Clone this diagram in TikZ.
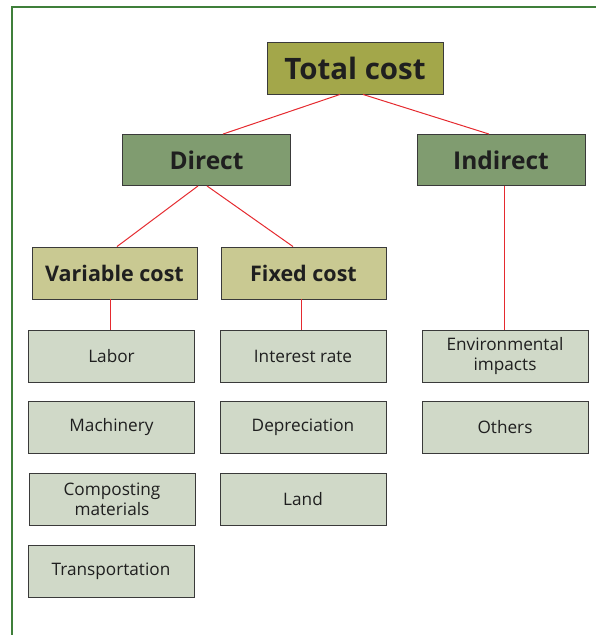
\documentclass[tikz,border=0pt]{standalone}
\usepackage{fontspec}
\setmainfont{Open Sans}
\usetikzlibrary{calc}
\definecolor{frame}{HTML}{3F7F3A}
\definecolor{topfill}{HTML}{A3A74A}
\definecolor{midfill}{HTML}{809C70}
\definecolor{subfill}{HTML}{C9C992}
\definecolor{leaffill}{HTML}{D0D9C8}
\definecolor{edge}{HTML}{3A3A3A}
\definecolor{link}{HTML}{E52A2F}
\tikzset{
  box/.style={draw=edge, line width=0.9pt, inner sep=0pt, align=center, text=black!88},
  topbox/.style={box, fill=topfill, minimum width=176pt, minimum height=52pt, font=\bfseries\fontsize{29.5}{32}\selectfont},
  midbox/.style={box, fill=midfill, minimum width=168pt, minimum height=51pt, font=\bfseries\fontsize{24.5}{28}\selectfont},
  subbox/.style={box, fill=subfill, minimum width=165pt, minimum height=52pt, font=\bfseries\fontsize{21.5}{24}\selectfont},
  leaf/.style={box, fill=leaffill, minimum width=166pt, minimum height=52pt, font=\fontsize{17.2}{20}\selectfont},
  conn/.style={draw=link, line width=1pt}
}
\begin{document}
\begin{tikzpicture}[x=1pt,y=-1pt]
\useasboundingbox (0,0) rectangle (596,635);
\draw[frame, line width=2.5pt] (12,640) -- (12,7) -- (600,7);
\node[topbox] (total) at (355,68) {Total cost};
\node[midbox] (direct) at (206.5,160) {Direct};
\node[midbox] (indirect) at (501,160) {Indirect};
\node[subbox] (variable) at (114.5,273) {Variable cost};
\node[subbox] (fixed) at (303.5,273) {Fixed cost};
\node[leaf] (labor) at (111.5,356) {Labor};
\node[leaf] (interest) at (303,356) {Interest rate};
\node[leaf] (env) at (505,356) {Environmental\\impacts};
\node[leaf] (machinery) at (111.5,427.5) {Machinery};
\node[leaf] (depreciation) at (303,427.5) {Depreciation};
\node[leaf] (others) at (505,427.5) {Others};
\node[leaf] (composting) at (112,499) {Composting\\materials};
\node[leaf] (land) at (303,499) {Land};
\node[leaf] (transport) at (111,571) {Transportation};
\draw[conn] ($(total.south)+(-15,0)$) -- ($(direct.north)+(16.5,0)$);
\draw[conn] ($(total.south)+(8,0)$) -- ($(indirect.north)+(-12,0)$);
\draw[conn] ($(direct.south)+(-8.5,0)$) -- ($(variable.north)+(2.5,0)$);
\draw[conn] ($(direct.south)+(0.5,0)$) -- ($(fixed.north)+(-10.5,0)$);
\draw[conn] ($(variable.south)+(-4.5,0)$) -- ($(labor.north)+(-1.5,0)$);
\draw[conn] ($(fixed.south)+(-2.5,0)$) -- ($(interest.north)+(-2,0)$);
\draw[conn] ($(indirect.south)+(3,0)$) -- ($(env.north)+(-1,0)$);
\end{tikzpicture}
\end{document}
